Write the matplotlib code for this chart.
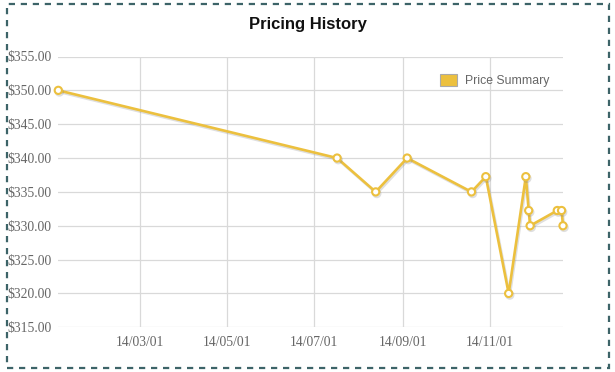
import matplotlib
matplotlib.use('Agg')
import matplotlib.pyplot as plt
import matplotlib.dates as mdates
import matplotlib.patheffects as PathEffects
from matplotlib.patches import Patch, Rectangle
import pandas as pd

# price history
dates = ['2014-01-03', '2014-07-17', '2014-08-13', '2014-09-04', '2014-10-19',
         '2014-10-29', '2014-11-14', '2014-11-26', '2014-11-28', '2014-11-29',
         '2014-12-18', '2014-12-21', '2014-12-22']
prices = [350.00, 340.00, 335.00, 340.00, 335.00,
          337.25, 320.00, 337.25, 332.25, 330.00,
          332.25, 332.25, 330.00]
y_ticks = [315, 320, 325, 330, 335, 340, 345, 350, 355]
x_ticks = ['2014-03-01', '2014-05-01', '2014-07-01', '2014-09-01', '2014-11-01']

dt = pd.to_datetime(dates)
yellow = '#ecc03e'
grid_col = '#d9d9d9'
label_col = '#666666'

fig = plt.figure(figsize=(6.15, 3.72), dpi=100)
ax = fig.add_axes([58.3 / 615, (372 - 327.3) / 372, (563 - 58.3) / 615, (327.3 - 56.5) / 372])

line, = ax.plot(dt, prices, color=yellow, lw=1.9, marker='o', markersize=5.2,
                markerfacecolor='white', markeredgecolor=yellow, markeredgewidth=1.5,
                zorder=3, clip_on=False, label='Price Summary')
line.set_path_effects([PathEffects.SimpleLineShadow(offset=(0.8, -1.2), alpha=0.25, shadow_color='gray'),
                       PathEffects.Normal()])

ax.set_xlim(dt[0], dt[-1])
ax.set_ylim(315, 355)
ax.set_yticks(y_ticks)
ax.set_yticklabels([f"${v:.2f}" for v in y_ticks])
ax.set_xticks(pd.to_datetime(x_ticks))
ax.xaxis.set_major_formatter(mdates.DateFormatter('%y/%m/%d'))

for s in ax.spines.values():
    s.set_visible(False)
ax.grid(True, color=grid_col, lw=0.9)
ax.set_axisbelow(True)
ax.tick_params(length=0, labelsize=9.8, labelcolor=label_col, pad=5)
for t in ax.get_xticklabels() + ax.get_yticklabels():
    t.set_fontfamily('Liberation Serif')
ax.tick_params(axis='x', pad=6)

fig.text(0.5, (372 - 24) / 372, 'Pricing History', ha='center', va='center',
         fontsize=12, fontweight='bold', family='Liberation Sans', color='#111111')

handle = Patch(facecolor=yellow, edgecolor='#aaaaaa', lw=0.8)
ax.legend([handle], ['Price Summary'], loc='upper right', frameon=False,
          bbox_to_anchor=(560 / 615, (372 - 63) / 372), bbox_transform=fig.transFigure,
          prop={'family': 'Liberation Sans', 'size': 8.8}, labelcolor=label_col,
          handlelength=1.4, handleheight=1.1, handletextpad=0.6)

# dashed frame round the whole chart
fig.patches.append(Rectangle((7 / 615, 4 / 372), 602 / 615, 364 / 372, transform=fig.transFigure,
                             fill=False, edgecolor='#3d6468', lw=1.6, ls=(0, (2.8, 2.6))))

plt.savefig('out.png', dpi=100)
plt.close()
